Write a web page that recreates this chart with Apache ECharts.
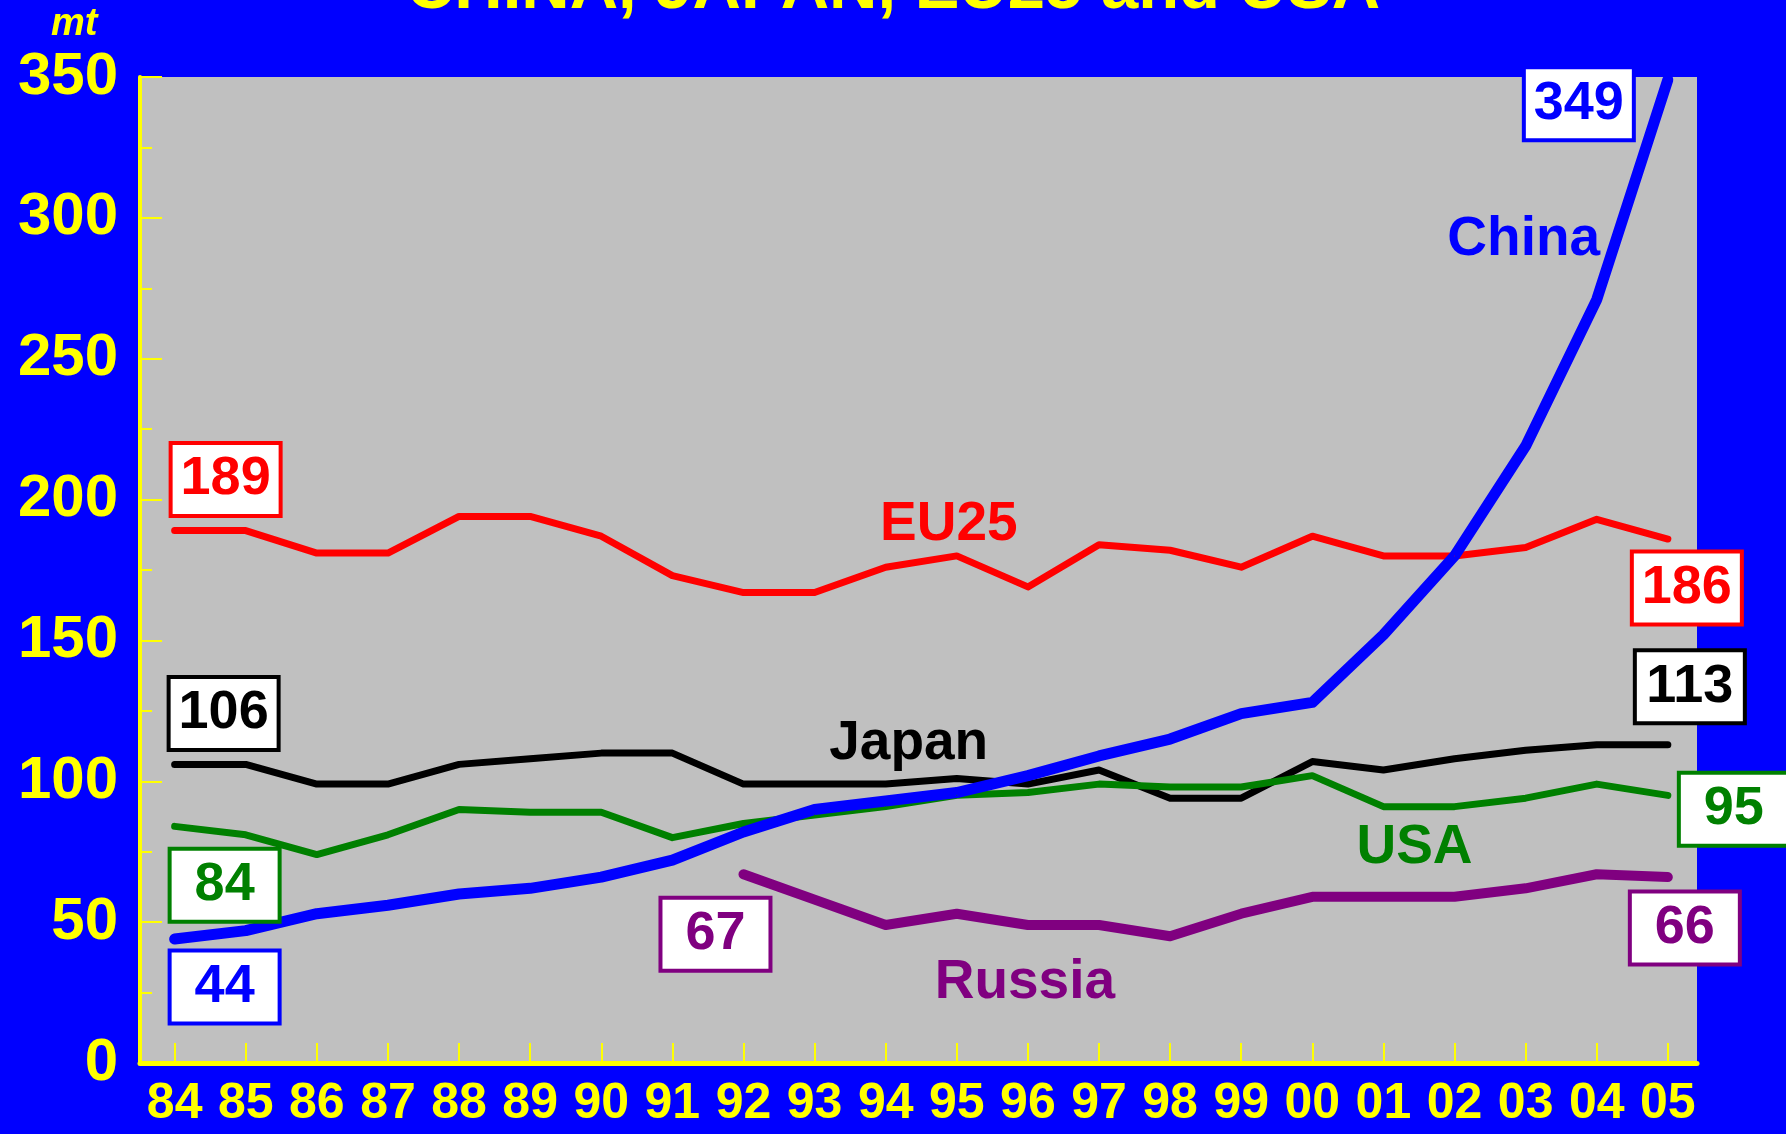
<!DOCTYPE html>
<html>
<head>
<meta charset="utf-8">
<script src="https://cdn.jsdelivr.net/npm/echarts@6/dist/echarts.min.js"></script>
<style>
  html, body { margin: 0; padding: 0; background: #0000ff; }
  #chart { width: 1786px; height: 1134px; }
</style>
</head>
<body>
<div id="chart"></div>
<script>
// years on the x axis
const years = ["84", "85", "86", "87", "88", "89", "90", "91", "92", "93", "94",
  "95", "96", "97", "98", "99", "00", "01", "02", "03", "04", "05"];

// mt
const eu25 = [189, 189, 181, 181, 194, 194, 187, 173, 167, 167, 176, 180, 169, 184, 182, 176, 187, 180, 180, 183, 193, 186];
const japan = [106, 106, 99, 99, 106, 108, 110, 110, 99, 99, 99, 101, 99, 104, 94, 94, 107, 104, 108, 111, 113, 113];
const usa = [84, 81, 74, 81, 90, 89, 89, 80, 85, 88, 91, 95, 96, 99, 98, 98, 102, 91, 91, 94, 99, 95];
const china = [44, 47, 53, 56, 60, 62, 66, 72, 82, 90, 93, 96, 102, 109, 115, 124, 128, 152, 180, 219, 271, 349];
// Russia starts in 92
const russiaStart = 8;
const russia = [67, 58, 49, 53, 49, 49, 45, 53, 59, 59, 59, 62, 67, 66];

const FONT = "Liberation Sans, Arial, sans-serif";

function boxLabel(color, offset) {
  return {
    show: true,
    position: "inside",
    offset: offset,
    formatter: "{@[1]}",
    color: color,
    fontFamily: FONT,
    fontWeight: "bold",
    fontSize: 54,
    lineHeight: 58,
    width: 94,
    align: "center",
    backgroundColor: "#ffffff",
    borderColor: color,
    borderWidth: 4,
    padding: [6, 6, 5, 6]
  };
}

function nameLabel(text, color, offset) {
  return {
    show: true,
    position: "inside",
    offset: offset,
    formatter: text,
    color: color,
    fontFamily: FONT,
    fontWeight: "bold",
    fontSize: 55
  };
}

// labels: {index: label}
function buildData(values, start, labels) {
  return values.map(function (v, i) {
    const item = { value: [start + i, v] };
    if (labels[i]) item.label = labels[i];
    return item;
  });
}

function makeSeries(name, values, start, color, width, labels) {
  return {
    name: name,
    type: "line",
    data: buildData(values, start, labels),
    symbol: "circle",
    symbolSize: 1,
    showSymbol: true,
    itemStyle: { color: color },
    lineStyle: { color: color, width: width, cap: "round", join: "round" },
    label: { show: false },
    emphasis: { disabled: true },
    z: 3
  };
}

const last = years.length - 1;
const tickIdx = years.map(function (y, i) { return i; });

let chart = echarts.init(document.getElementById("chart"));

let option = {
  backgroundColor: "#0000ff",
  animation: false,
  graphic: [
    {
      type: "text",
      left: "center",
      top: -44,
      style: {
        text: "CHINA, JAPAN, EU25 and USA",
        fill: "#ffff00",
        font: "bold 67px " + FONT
      }
    },
    {
      type: "text",
      left: 51,
      top: 6,
      style: {
        text: "mt",
        fill: "#ffff00",
        font: "italic bold 38px " + FONT
      }
    }
  ],
  grid: {
    left: 140,
    top: 77,
    right: 89,
    bottom: 71,
    show: true,
    backgroundColor: "#c0c0c0",
    borderWidth: 0
  },
  xAxis: {
    type: "value",
    min: -0.487,
    max: 21.41,
    splitLine: { show: false },
    axisLine: { onZero: false, lineStyle: { color: "#ffff00", width: 5 } },
    axisTick: {
      inside: true,
      length: 20,
      customValues: tickIdx,
      lineStyle: { color: "#ffff00", width: 2 }
    },
    axisLabel: {
      customValues: tickIdx,
      formatter: function (v) { return years[Math.round(v)]; },
      color: "#ffff00",
      fontFamily: FONT,
      fontWeight: "bold",
      fontSize: 50,
      margin: 16
    }
  },
  yAxis: {
    type: "value",
    min: 0,
    max: 350,
    interval: 50,
    splitLine: { show: false },
    axisLine: { show: true, onZero: false, lineStyle: { color: "#ffff00", width: 4 } },
    axisTick: {
      show: true,
      inside: true,
      length: 22,
      lineStyle: { color: "#ffff00", width: 2 }
    },
    minorTick: {
      show: true,
      splitNumber: 2,
      length: 12,
      lineStyle: { color: "#ffff00", width: 2 }
    },
    axisLabel: {
      color: "#ffff00",
      fontFamily: FONT,
      fontWeight: "bold",
      fontSize: 60,
      margin: 22
    }
  },
  series: [
    makeSeries("EU25", eu25, 0, "#ff0000", 7, {
      0: boxLabel("#ff0000", [51, -51]),
      11: nameLabel("EU25", "#ff0000", [-8, -31]),
      [last]: boxLabel("#ff0000", [19, 49])
    }),
    makeSeries("Japan", japan, 0, "#000000", 7, {
      0: boxLabel("#000000", [49, -51]),
      10: nameLabel("Japan", "#000000", [23, -40]),
      [last]: boxLabel("#000000", [22, -58])
    }),
    makeSeries("USA", usa, 0, "#008000", 7, {
      0: boxLabel("#008000", [50, 59]),
      18: nameLabel("USA", "#008000", [-40, 41]),
      [last]: boxLabel("#008000", [66, 14])
    }),
    makeSeries("Russia", russia, russiaStart, "#800080", 10, {
      0: boxLabel("#800080", [-28, 60]),
      4: nameLabel("Russia", "#800080", [-3, 58]),
      [russia.length - 1]: boxLabel("#800080", [17, 51])
    }),
    makeSeries("China", china, 0, "#0000ff", 11, {
      0: boxLabel("#0000ff", [50, 48]),
      20: nameLabel("China", "#0000ff", [-73, -60]),
      [last]: boxLabel("#0000ff", [-89, 24])
    })
  ]
};
chart.setOption(option);
</script>
</body>
</html>
